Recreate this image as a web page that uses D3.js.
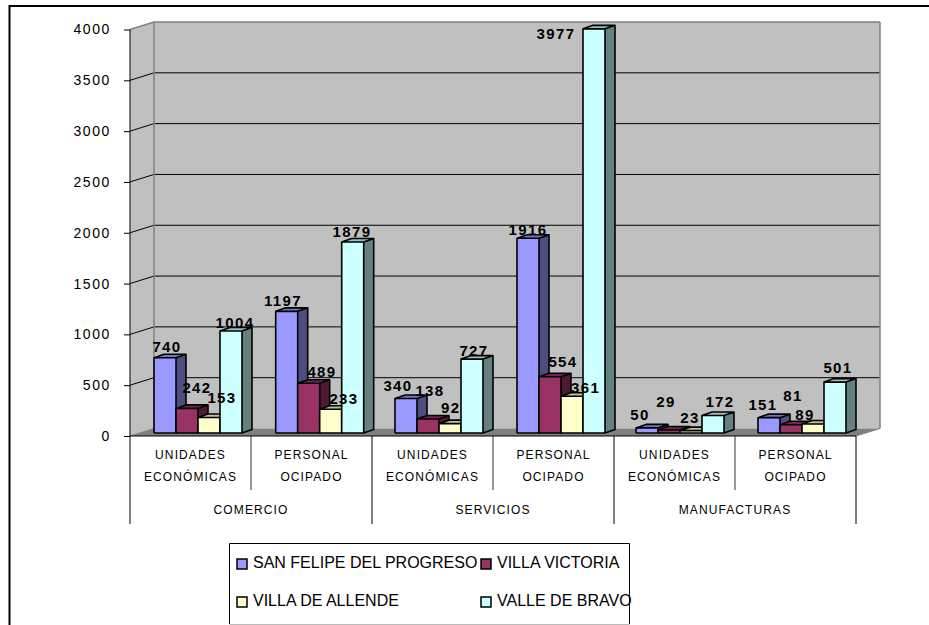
<!DOCTYPE html>
<html><head><meta charset="utf-8">
<script src="https://cdn.jsdelivr.net/npm/d3@7/dist/d3.min.js"></script>
<style>html,body{margin:0;padding:0;background:#fff}svg{display:block}text{font-family:"Liberation Sans",Arial,sans-serif}</style>
</head><body><svg id="c" width="929" height="625"></svg>
<script>
const categories = ["UNIDADES ECONÓMICAS","PERSONAL OCIPADO","UNIDADES ECONÓMICAS ","PERSONAL OCIPADO ","UNIDADES ECONÓMICAS  ","PERSONAL OCIPADO  "];
const groups = ["COMERCIO","SERVICIOS","MANUFACTURAS"];
const seriesNames = ["SAN FELIPE DEL PROGRESO","VILLA VICTORIA","VILLA DE ALLENDE","VALLE DE BRAVO"];
const sanFelipe = [740,1197,340,1916,50,151];
const villaVictoria = [242,489,138,554,29,81];
const villaAllende = [153,233,92,361,23,89];
const valleBravo = [1004,1879,727,3977,172,501];
const yTicks = [0,500,1000,1500,2000,2500,3000,3500,4000];
const fronts = ["#9999FF","#993366","#FFFFCC","#CCFFFF"];
const sides = ["#4D4D80","#4D1A33","#808066","#668080"];
const tops = ["#7373BF","#73264D","#BFBF99","#99BFBF"];
// layout nudges, separate from the values
const clusterShift = [-0.5,0.2,-1.5,-0.5,-2.5,-1.5];
const nudges = [
 [[2,-5.4],[-3.7,-5.3],[-8,-7.3],[0,-2.9],[-7,-7.5],[-6,-7.3]],
 [[10,-15],[13.3,-5.9],[2,-22.9],[13,-9.3],[-3,-23.1],[2,-23.4]],
 [[13,-14.1],[13.3,-5.2],[0.7,-10.6],[13.7,-3.2],[-1,-7.3],[-8,-3.6]],
 [[4,-2.6],[-0.7,-4.9],[2,-3],[-38,10.6],[7,-8.6],[3,-8.7]]
];
const series = [sanFelipe,villaVictoria,villaAllende,valleBravo];

const svg = d3.select("#c");
const x0=130,x1=856,yBase=436,yTop=29.5,depthX=24,depthY=-7.5;
const x = d3.scaleBand().domain(categories).range([x0,x1]);
const inner = d3.scaleBand().domain(d3.range(4)).range([16.5,104.5]);
const y = d3.scaleLinear().domain([0,4000]).range([yBase,yTop]);
const pts = a=>a.map(p=>p.join(",")).join(" ");

// frame
svg.append("path").attr("d","M9.5 625V6H929").attr("fill","none").attr("stroke","#000").attr("stroke-width",2);

// walls
svg.append("polygon").attr("points",pts([[x0,y(0)],[x0+depthX,y(0)+depthY],[x0+depthX,y(4000)+depthY],[x0,y(4000)]])).attr("fill","#C0C0C0");
svg.append("rect").attr("x",x0+depthX).attr("y",y(4000)+depthY).attr("width",x1-x0).attr("height",y(0)-y(4000)).attr("fill","#C0C0C0");
svg.append("polygon").attr("points",pts([[x0,y(0)],[x1,y(0)],[x1+depthX,y(0)+depthY],[x0+depthX,y(0)+depthY]])).attr("fill","#808080");
// gridlines
yTicks.filter(t=>t>0).forEach(t=>{
  const isTop=t===4000, c=isTop?"#808080":"#000";
  svg.append("path").attr("d",`M${x0} ${y(t)}L${x0+depthX} ${y(t)+depthY}H${x1+depthX}`).attr("fill","none").attr("stroke",c).attr("stroke-width",isTop?1.5:1);
});
svg.append("path").attr("d",`M${x0+depthX} ${y(0)+depthY}V${y(4000)+depthY}`).attr("stroke","#808080").attr("stroke-width",1.5);
svg.append("path").attr("d",`M${x1+depthX} ${y(0)+depthY}V${y(4000)+depthY}`).attr("stroke","#808080").attr("stroke-width",1.5);
svg.append("path").attr("d",`M${x0} ${y(0)}L${x0+depthX} ${y(0)+depthY}`).attr("stroke","#808080");
svg.append("path").attr("d",`M${x1} ${y(0)}L${x1+depthX} ${y(0)+depthY}`).attr("stroke","#808080");
// y axis
const ya = d3.axisLeft(y).tickValues(yTicks).tickSize(6).tickPadding(13).tickFormat(d3.format("d"));
const gy = svg.append("g").attr("transform",`translate(${x0},0)`).call(ya);
gy.select(".domain").attr("stroke","#000").attr("d",`M0 ${y(4000)}V${y(0)}`);
gy.selectAll("text").attr("font-size",14).attr("letter-spacing",1.6).attr("fill","#000").style("font-family",'"Liberation Sans"');

// bars
const bx=8, by=-3, bdx=10, bdy=-3.5;
const barLeft=(c,ci,si)=>x(c)+inner(si)+bx+clusterShift[ci];
categories.forEach((c,ci)=>{
  series.forEach((s,si)=>{
    const v=s[ci], l=barLeft(c,ci,si), r=l+inner.bandwidth(), b=y(0)+by, t=y(v)+by;
    const g=svg.append("g");
    g.append("polygon").attr("points",pts([[r,b],[r+bdx,b+bdy],[r+bdx,t+bdy],[r,t]])).attr("fill",sides[si]);
    g.append("polygon").attr("points",pts([[l,t],[l+bdx,t+bdy],[r+bdx,t+bdy],[r,t]])).attr("fill",tops[si]);
    g.append("rect").attr("x",l).attr("y",t).attr("width",r-l).attr("height",b-t).attr("fill",fronts[si]);
    g.append("path").attr("d",`M${l} ${b}V${t}L${l+bdx} ${t+bdy}H${r+bdx}V${b+bdy}L${r} ${b}H${l}M${l} ${t}H${r}V${b}M${r} ${t}L${r+bdx} ${t+bdy}`)
      .attr("fill","none").attr("stroke","#000").attr("stroke-width",1.6).attr("stroke-linejoin","round");
  });
});
// data labels
categories.forEach((c,ci)=>{
  series.forEach((s,si)=>{
    const v=s[ci], n=nudges[si][ci];
    svg.append("text").attr("x",barLeft(c,ci,si)+inner.bandwidth()/2+n[0]).attr("y",y(v)+by+n[1])
      .attr("text-anchor","middle").attr("font-size",15).attr("font-weight","bold").attr("letter-spacing",1.4).attr("fill","#000").text(v);
  });
});
// x axis multi-level
svg.append("path").attr("d",`M${x0} ${y(0)}H${x1}`).attr("stroke","#000");
categories.forEach((c,i)=>{
  const lx=x(c), major=i%2===0;
  svg.append("path").attr("d",`M${lx} ${y(0)}V${major?524:490}`).attr("stroke",major?"#000":"#333");
  c.trim().split(" ").forEach((w,k)=>{
    svg.append("text").attr("x",lx+x.bandwidth()/2).attr("y",459+k*22).attr("text-anchor","middle")
      .attr("font-size",12).attr("letter-spacing",1.1).attr("fill","#000").text(w);
  });
});
svg.append("path").attr("d",`M${x1} ${y(0)}V524`).attr("stroke","#000");
groups.forEach((g,i)=>{
  svg.append("text").attr("x",x(categories[i*2])+x.bandwidth()).attr("y",514).attr("text-anchor","middle")
    .attr("font-size",12).attr("letter-spacing",1.1).attr("fill","#000").text(g);
});
// legend
svg.append("path").attr("d","M229.5 624V543.5H629.5V624").attr("fill","none").attr("stroke","#000");
svg.append("path").attr("d","M229.5 624.5H629.5").attr("stroke","#BBB");
const lgX=[237,481], lgY=[559,597];
seriesNames.forEach((n,i)=>{
  const cx=lgX[i%2], cy=lgY[Math.floor(i/2)];
  svg.append("rect").attr("x",cx).attr("y",cy).attr("width",10).attr("height",10).attr("fill",fronts[i]).attr("stroke","#000").attr("stroke-width",1.5);
  svg.append("text").attr("x",cx+16).attr("y",cy+8.5).attr("font-size",16).attr("fill","#000").text(n);
});
</script></body></html>
